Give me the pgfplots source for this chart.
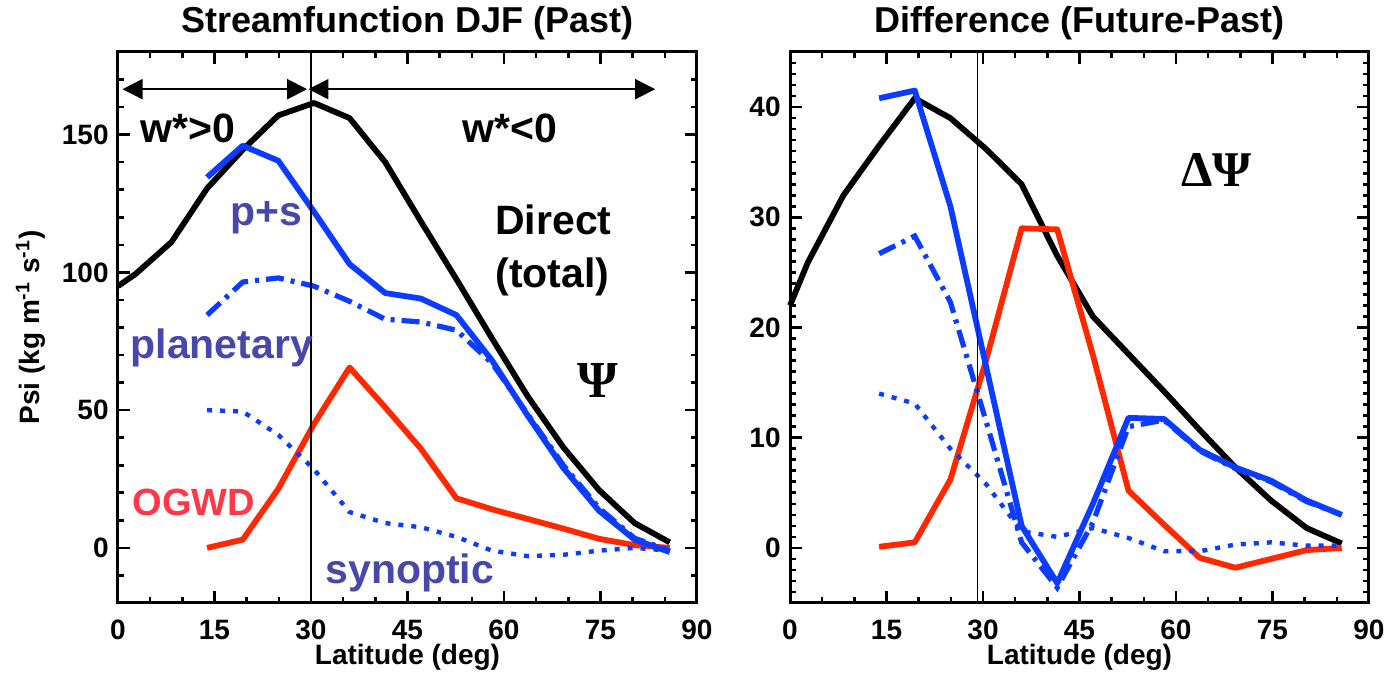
\documentclass[border=0pt]{standalone}
\usepackage{fontspec}
\setmainfont{Liberation Sans}
\newfontfamily\greekserif{Liberation Serif}
\usepackage{pgfplots}
\pgfplotsset{compat=1.18}
\usetikzlibrary{arrows.meta}
\definecolor{lblue}{RGB}{12,60,255}
\definecolor{lred}{RGB}{255,40,0}
\definecolor{tblue}{RGB}{72,72,170}
\definecolor{tred}{RGB}{255,56,72}

\tikzset{
 tot/.style={black, line width=2.9pt, line join=round},
 ps/.style={lblue, line width=2.9pt, line join=round},
 plan/.style={lblue, line width=2.6pt, dash pattern=on 9pt off 3.5pt on 2pt off 3.5pt},
 syn/.style={lblue, line width=2.2pt, dash pattern=on 2.5pt off 4pt},
 ogwd/.style={lred, line width=2.9pt, line join=round},
 lab/.style={font=\fontsize{20.5}{20.5}\selectfont\bfseries, inner sep=0pt},
}
\pgfplotsset{
 every axis title/.style={at={(0.5,1)}, anchor=base, yshift=9.5pt, inner sep=0pt, font=\fontsize{18}{18}\selectfont\bfseries},
 myaxis/.style={
  scale only axis, width=289.5pt, height=275.5pt,
  xmin=0, xmax=90, xtick={0,15,...,90}, minor xtick={5,10,...,85},
  axis line style={line width=1.5pt},
  every tick/.style={black, line width=1.3pt},
  major tick length=6pt, minor tick length=3pt,
  tick align=inside,
  tick label style={font=\fontsize{14}{14}\selectfont\bfseries, inner sep=0pt},
  /pgf/number format/assume math mode=true,
  xticklabel style={anchor=north, yshift=-8.5pt},
  yticklabel style={anchor=east, xshift=-4.5pt},
  xlabel={Latitude (deg)},
  xlabel style={font=\fontsize{14}{14}\selectfont\bfseries, at={(axis description cs:0.5,0)}, anchor=base, yshift=-31pt},
  clip=false,
 },
}

\begin{document}
\begin{tikzpicture}
\path[use as bounding box] (0,0) rectangle (693.5pt,339pt);

% ---------------- Left panel ----------------
\begin{axis}[myaxis, at={(59pt,37.5pt)}, anchor=south west,
  ymin=-20, ymax=180, ytick={0,50,100,150}, minor ytick={-20,-10,...,180},
  title={Streamfunction DJF (Past)},
  ylabel={Psi (kg m\textsuperscript{-1} s\textsuperscript{-1})},
  ylabel style={font=\fontsize{14}{14}\selectfont\bfseries, at={(axis description cs:-0.135,0.5)}, anchor=base},
]
\addplot[tot] coordinates {(0,95) (2.77,99.5) (8.31,111) (13.85,130.5) (19.39,144.5) (24.93,157) (30.47,161.5) (36.0,156) (41.54,140) (47.08,118.5) (52.61,97.5) (58.15,76) (63.69,55) (69.23,36.5) (74.77,21) (80.31,9) (85.76,2)};
\addplot[ogwd] coordinates {(13.85,0) (19.39,3) (24.93,21.5) (30.47,45) (36.0,65.5) (41.54,51) (47.08,36) (52.61,18) (58.15,14) (63.69,10.5) (69.23,7) (74.77,3.3) (80.31,1) (85.76,0)};
\addplot[syn] coordinates {(13.85,50) (19.39,49.5) (24.93,41) (30.47,28.5) (36.0,13) (41.54,9) (47.08,7.5) (52.61,4) (58.15,-1) (63.69,-3) (69.23,-2.5) (74.77,-1) (80.31,0) (85.76,-1)};
\addplot[plan] coordinates {(13.85,84.5) (19.39,96.5) (24.93,98) (30.47,95) (36.0,89.5) (41.54,83) (47.08,82) (52.61,79) (58.15,67) (63.69,48.5) (69.23,30) (74.77,14.5) (80.31,3.5) (85.76,-1)};
\addplot[ps] coordinates {(13.85,134.5) (19.39,146) (24.93,140.5) (30.47,122) (36.0,103) (41.54,92.5) (47.08,90.5) (52.61,84.5) (58.15,68) (63.69,48) (69.23,29) (74.77,13.5) (80.31,3) (85.76,-1.5)};
\draw[black, line width=0.7pt] (axis cs:30,-20) -- (axis cs:30,180);
\draw[black, line width=1pt, {Triangle[length=10pt,width=10pt]}-{Triangle[length=10pt,width=10pt]}] (axis cs:0.7,166.5) -- (axis cs:29.4,166.5);
\draw[black, line width=1pt, {Triangle[length=10pt,width=10pt]}-{Triangle[length=10pt,width=10pt]}] (axis cs:29.6,166.5) -- (axis cs:83.5,166.5);
\node[lab, anchor=base west] at (axis cs:3.4,147) {w*>0};
\node[lab, anchor=base west] at (axis cs:53.5,147) {w*<0};
\node[lab, anchor=base west] at (axis cs:58.6,113.8) {Direct};
\node[lab, anchor=base west] at (axis cs:58.6,94.5) {(total)};
\node[inner sep=0pt, anchor=base west, font=\fontsize{26}{26}\selectfont\greekserif\bfseries] at (axis cs:71.4,54.5) {Ψ};
\node[lab, anchor=base west, text=tblue] at (axis cs:17.4,117) {p+s};
\node[lab, anchor=base west, text=tblue] at (axis cs:1.9,68.7) {planetary};
\node[lab, anchor=base west, text=tred, font=\fontsize{19}{19}\selectfont\bfseries] at (axis cs:2.2,11.6) {OGWD};
\node[lab, anchor=base west, text=tblue] at (axis cs:32.2,-13) {synoptic};
\end{axis}

% ---------------- Right panel ----------------
\begin{axis}[myaxis, at={(395pt,37.5pt)}, anchor=south west,
  ymin=-5, ymax=45, ytick={0,10,...,40}, minor ytick={-5,-4,...,45},
  title={Difference (Future-Past)},
]
\addplot[tot] coordinates {(0,22) (2.77,25.9) (8.31,32) (13.85,36.5) (19.39,40.8) (24.93,39) (30.47,36.2) (36.0,33) (41.54,26.5) (47.08,21) (52.61,17.6) (58.15,14.2) (63.69,10.7) (69.23,7.3) (74.77,4.3) (80.31,1.8) (85.76,0.4)};
\addplot[ogwd] coordinates {(13.85,0.1) (19.39,0.5) (24.93,6.2) (30.47,17) (36.0,29) (41.54,28.9) (47.08,17.5) (52.61,5.2) (58.15,2.1) (63.69,-0.9) (69.23,-1.8) (74.77,-1) (80.31,-0.2) (85.76,0)};
\addplot[syn] coordinates {(13.85,14) (19.39,13.1) (24.93,9) (30.47,5.8) (36.0,1.5) (41.54,1) (47.08,1.8) (52.61,0.9) (58.15,-0.3) (63.69,-0.3) (69.23,0.3) (74.77,0.5) (80.31,0.2) (85.76,0.2)};
\addplot[plan] coordinates {(13.85,26.7) (19.39,28.3) (24.93,22.3) (30.47,11.5) (36.0,0.5) (41.54,-3.6) (47.08,2.3) (52.61,11) (58.15,11.6) (63.69,8.8) (69.23,7.2) (74.77,6) (80.31,4.2) (85.76,3)};
\addplot[ps] coordinates {(13.85,40.8) (19.39,41.5) (24.93,31) (30.47,16.5) (36.0,2) (41.54,-3.2) (47.08,4) (52.61,11.8) (58.15,11.7) (63.69,8.9) (69.23,7.3) (74.77,6.1) (80.31,4.3) (85.76,3)};
\draw[black, line width=0.7pt] (axis cs:29.1,-5) -- (axis cs:29.1,45);
\node[inner sep=0pt, anchor=base west, font=\fontsize{25}{25}\selectfont\greekserif\bfseries] at (axis cs:60.8,32.8) {ΔΨ};
\end{axis}
\end{tikzpicture}
\end{document}
